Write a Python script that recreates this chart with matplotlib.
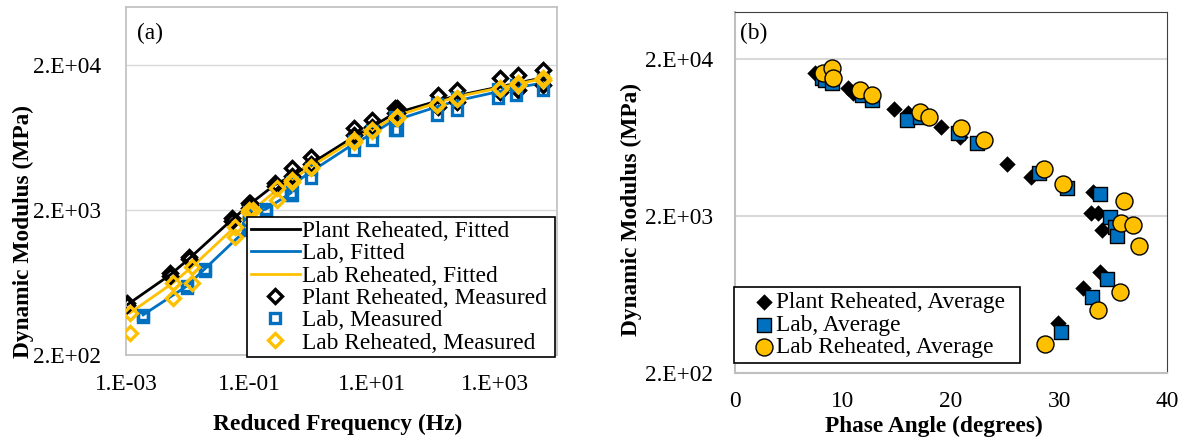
import matplotlib
matplotlib.use("Agg")
import matplotlib.pyplot as plt
import numpy as np

plt.rcParams['font.family'] = ['Liberation Serif', 'DejaVu Serif']
plt.rcParams['font.size'] = 16.8

BLACK = '#000000'
BLUE = '#0070C0'
GOLD = '#FFC000'

# ---- panel (a): master curves ----
freq_plant = [0.00104, 0.0052, 0.0105, 0.052, 0.104, 0.26,
              0.1, 0.5, 1, 5, 10, 25,
              23.5, 118, 235, 1180, 2350, 5900]
fit_plant = [443, 713, 919, 1706, 2200, 2974,
             2164, 3430, 4150, 6373, 7470, 9330,
             9330, 11300, 12220, 14100, 15020, 16270]
meas_plant_1 = [457, 736, 948, 1762, 2235, 3070,
                2235, 3899, 4646, 7362, 8356, 10100,
                10100, 12420, 13460, 16270, 17060, 18490]
meas_plant_2 = [439, 706, 911, 1680, 2160, 2940,
                2065, 3430, 4150, 6580, 7470, 9330,
                9330, 10260, 11120, 13030, 13460, 14550]

freq_lab = [0.0019, 0.0098, 0.019, 0.096, 0.19, 0.48,
            0.1, 0.5, 1, 5, 10, 25,
            23, 112, 236, 1100, 2200, 5880]
fit_lab = [378, 598, 784, 1503, 2032, 2619,
           1849, 2974, 3657, 5705, 6685, 8356,
           8356, 10260, 11300, 13030, 13880, 15020]
meas_lab_1 = [366, 579, 759, 1456, 1968, 2537,
              1849, 2537, 3326, 5187, 6080, 7128,
              7128, 9040, 9796, 11840, 12420, 13460]
meas_lab_2 = [378, 598, 784, 1503, 2032, 2619,
              1938, 3119, 3835, 5985, 7010, 8620,
              8750, 10770, 11840, 13650, 14550, 15770]

freq_lr = [0.00116, 0.0058, 0.0118, 0.0588, 0.115, 0.283,
           0.1, 0.5, 1, 5, 10, 25,
           25, 112, 236, 1180, 2310, 5880]
fit_lr = [390, 628, 809, 1527, 2000, 2748,
          1938, 3220, 3962, 6080, 7128, 8897,
          8897, 10940, 12030, 13880, 14790, 16000]
meas_lr_1 = [390, 628, 809, 1527, 2000, 2840,
             2000, 3220, 3962, 6080, 7128, 8750,
             8750, 10600, 11840, 13880, 15020, 16270]
meas_lr_2 = [284, 494, 628, 1303, 1652, 2345,
             1938, 3119, 3899, 5840, 7010, 8620,
             8620, 10770, 11640, 13650, 14550, 15770]

# ---- panel (b): black space (phase angle in degrees, |E*| in MPa) ----
pa_plant = [7.4, 7.7, 8.0, 10.46, 10.93, 14.72, 16.02, 19.07, 20.83,
            25.19, 27.41, 33.15, 32.96, 33.61, 33.98, 33.80, 32.22, 29.91]
e_plant = [16290, 15900, 15500, 13070, 12140, 9610, 9060, 7370, 6370,
           4290, 3540, 2845, 2090, 2090, 1629, 880, 695, 416]
pa_lab = [8.06, 8.33, 8.98, 11.76, 12.69, 15.93, 17.13, 20.65, 22.41,
          28.15, 30.74, 33.80, 34.72, 35.19, 35.37, 34.44, 33.06, 30.19]
e_lab = [15140, 14690, 14050, 11800, 10960, 8170, 8550, 6760, 5830,
         3760, 3010, 2760, 1970, 1702, 1493, 794, 610, 365]
pa_lr = [8.15, 8.98, 9.07, 11.57, 12.69, 17.13, 17.96, 20.93, 23.06,
         28.61, 30.37, 36.02, 35.74, 36.85, 37.41, 35.65, 33.61, 28.70]
e_lr = [16290, 17530, 15140, 12700, 11800, 9190, 8550, 7270, 6100,
        3980, 3200, 2490, 1805, 1754, 1288, 656, 504, 306]

fig = plt.figure(figsize=(11.83, 4.4), dpi=100)
ax1 = fig.add_axes([0.1065, 0.1932, 0.3643, 0.7908])
ax2 = fig.add_axes([0.6213, 0.1523, 0.3652, 0.8204])


def sorted_xy(x, y):
    order = np.argsort(x)
    return np.asarray(x)[order], np.asarray(y)[order]


# fitted lines
for f, e, c, lab in [(freq_plant, fit_plant, BLACK, 'Plant Reheated, Fitted'),
                     (freq_lab, fit_lab, BLUE, 'Lab, Fitted'),
                     (freq_lr, fit_lr, GOLD, 'Lab Reheated, Fitted')]:
    xs, ys = sorted_xy(f, e)
    ax1.plot(xs, ys, color=c, lw=2, label=lab, zorder=2)

# measured points (two replicates each)
for f, m1, m2, c, mk, ms, lab in [
        (freq_plant, meas_plant_1, meas_plant_2, BLACK, 'D', 6.8, 'Plant Reheated, Measured'),
        (freq_lab, meas_lab_1, meas_lab_2, BLUE, 's', 6.8, 'Lab, Measured'),
        (freq_lr, meas_lr_1, meas_lr_2, GOLD, 'D', 6.8, 'Lab Reheated, Measured')]:
    ax1.plot(f, m2, ls='none', marker=mk, ms=ms, mfc='none', mec=c, mew=2.4, zorder=3)
    ax1.plot(f, m1, ls='none', marker=mk, ms=ms, mfc='none', mec=c, mew=2.4, zorder=3, label=lab)

ax1.set_xscale('log')
ax1.set_yscale('log')
ax1.set_xlim(1e-3, 1e4)
ax1.set_ylim(200, 50000)
ax1.set_xticks([1e-3, 1e-1, 1e1, 1e3])
ax1.set_xticklabels(['1.E-03', '1.E-01', '1.E+01', '1.E+03'])
ax1.set_yticks([200, 2000, 20000])
ax1.set_yticklabels(['2.E+02', '2.E+03', '2.E+04'])
ax1.minorticks_off()
ax1.tick_params(length=0, labelsize=16.8)
ax1.tick_params(axis='x', pad=14)
ax1.tick_params(axis='y', pad=18)
ax1.grid(axis='y', color='#d9d9d9', lw=1)
ax1.set_axisbelow(True)
for s in ax1.spines.values():
    s.set_color('#bfbfbf')
    s.set_linewidth(1.2)
ax1.set_xlabel('Reduced Frequency (Hz)', fontweight='bold', fontsize=16.8)
ax1.set_ylabel('Dynamic Modulus (MPa)', fontweight='bold', fontsize=16.8)
ax1.xaxis.set_label_coords(0.49, -0.168)
ax1.yaxis.set_label_coords(-0.214, 0.356)
ax1.text(0.025, 0.925, '(a)', transform=ax1.transAxes, fontsize=16.8, va='center')

leg1 = ax1.legend(loc='lower left', mode='expand',
                  bbox_to_anchor=(247 / 1183, 83 / 440, 308 / 1183, 141 / 440),
                  bbox_transform=fig.transFigure, fontsize=16.8,
                  frameon=True, fancybox=False, edgecolor='black', framealpha=1,
                  handlelength=2.1, handletextpad=0.12, labelspacing=0.04,
                  borderpad=0.15, borderaxespad=0)
leg1.get_frame().set_linewidth(1.2)

# ---- panel (b) ----
ax2.scatter(pa_plant, e_plant, marker='D', s=70, color=BLACK, lw=0,
            label='Plant Reheated, Average', zorder=3)
ax2.scatter(pa_lab, e_lab, marker='s', s=95, color=BLUE, edgecolor='black', lw=1,
            label='Lab, Average', zorder=3)
ax2.scatter(pa_lr, e_lr, marker='o', s=150, color=GOLD, edgecolor='black', lw=1,
            label='Lab Reheated, Average', zorder=3)
ax2.set_yscale('log')
ax2.set_xlim(0, 40)
ax2.set_ylim(200, 40000)
ax2.set_xticks([0, 10, 20, 30, 40])
ax2.set_yticks([200, 2000, 20000])
ax2.set_yticklabels(['2.E+02', '2.E+03', '2.E+04'])
ax2.minorticks_off()
ax2.tick_params(length=0, labelsize=16.8)
ax2.tick_params(axis='x', pad=13)
ax2.tick_params(axis='y', pad=16)
ax2.grid(axis='y', color='#d9d9d9', lw=1.5)
ax2.set_axisbelow(True)
for side in ['top', 'right']:
    ax2.spines[side].set_color('#404040')
for side in ['left', 'bottom']:
    ax2.spines[side].set_color('#bfbfbf')
    ax2.spines[side].set_linewidth(1.5)
ax2.set_xlabel('Phase Angle (degrees)', fontweight='bold', fontsize=16.8)
ax2.set_ylabel('Dynamic Modulus (MPa)', fontweight='bold', fontsize=16.8)
ax2.xaxis.set_label_coords(0.46, -0.118)
ax2.yaxis.set_label_coords(-0.215, 0.452)
ax2.text(0.012, 0.94, '(b)', transform=ax2.transAxes, fontsize=16.8, va='center')

leg2 = ax2.legend(loc='lower left', mode='expand',
                  bbox_to_anchor=(734 / 1183, 77 / 440, 286 / 1183, 76 / 440),
                  bbox_transform=fig.transFigure, fontsize=16.8,
                  frameon=True, fancybox=False, edgecolor='black', framealpha=1,
                  handlelength=2.2, handletextpad=-0.6, labelspacing=0.05,
                  borderpad=0.2, borderaxespad=0)
leg2.get_frame().set_linewidth(1.2)

fig.savefig('out.png', dpi=100)
